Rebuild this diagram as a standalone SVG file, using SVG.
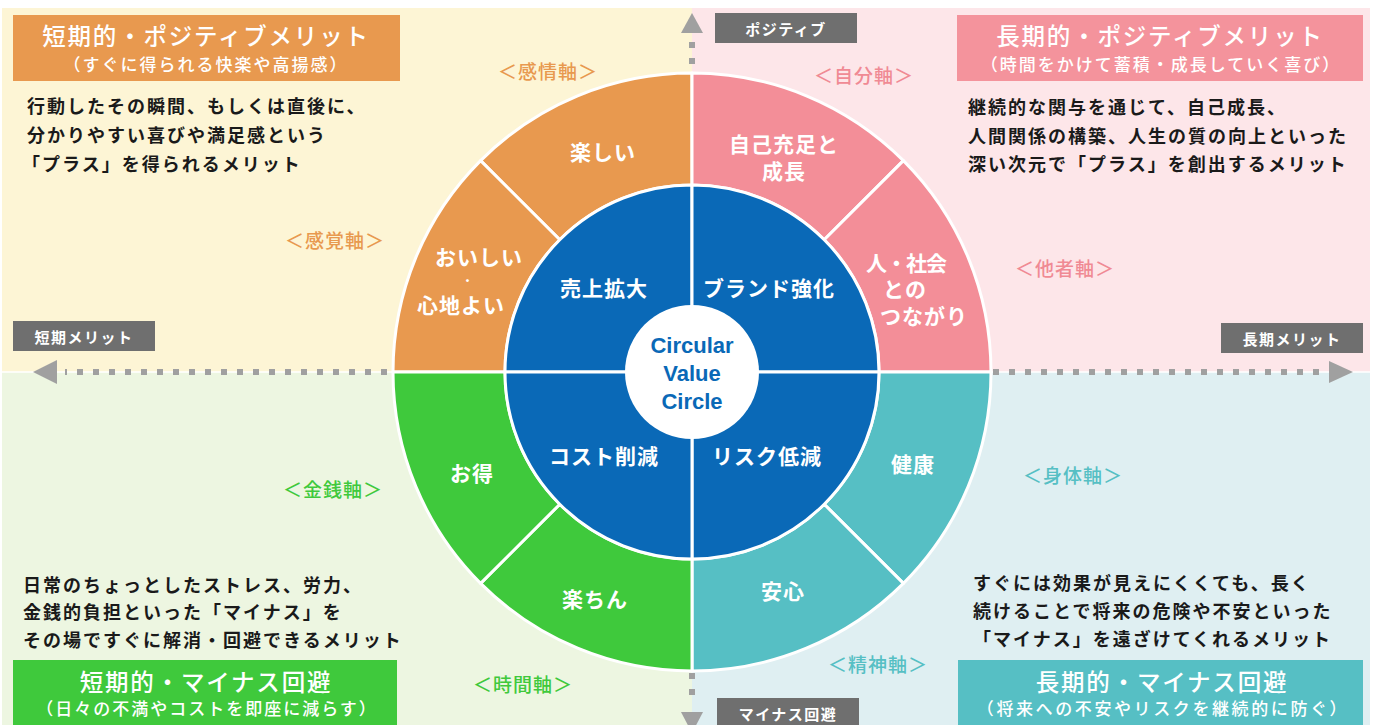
<svg xmlns="http://www.w3.org/2000/svg" width="1375" height="725" viewBox="0 0 1375 725">
<style>
text { font-family: "Noto Sans CJK JP", "Noto Sans", sans-serif; }
.seg { fill:#ffffff; font-size:21px; font-weight:700; letter-spacing:1px; text-anchor:middle; dominant-baseline:central; }
.axis { font-size:19px; font-weight:500; letter-spacing:1px; text-anchor:middle; dominant-baseline:central; }
.desc { font-size:18px; font-weight:700; fill:#1a1a1a; letter-spacing:2px; dominant-baseline:central; }
.htitle { font-size:23.5px; font-weight:500; fill:#ffffff; letter-spacing:1.8px; text-anchor:middle; dominant-baseline:central; }
.hsub { font-size:17px; font-weight:500; fill:#ffffff; letter-spacing:2px; text-anchor:middle; dominant-baseline:central; }
.glabel { font-size:15px; font-weight:700; fill:#ffffff; letter-spacing:1.5px; text-anchor:middle; dominant-baseline:central; }
.gbox { fill:#6f6f6f; }
.ring { stroke:#ffffff; stroke-width:3; stroke-linejoin:round; }
.dash { stroke:#a0a0a0; stroke-width:6; stroke-dasharray:6 10; fill:none; }
.head { fill:#a0a0a0; }
.ctr { font-family:"Liberation Sans", Arial, sans-serif; font-size:22px; font-weight:700; fill:#0a69b7; text-anchor:middle; dominant-baseline:central; }
</style>

<!-- quadrant backgrounds -->
<g id="background">
<rect x="0" y="0" width="1375" height="725" fill="#ffffff"/>
<rect x="2" y="8" width="690" height="364" fill="#fdf5d5"/>
<rect x="692" y="8" width="678" height="364" fill="#fde6e9"/>
<rect x="2" y="372" width="690" height="353" fill="#edf6e1"/>
<rect x="692" y="372" width="678" height="353" fill="#dfeff2"/>
<line x1="2" y1="372" x2="1370" y2="372" stroke="#ffffff" stroke-width="1.5"/>
</g>

<!-- connectors (axes arrows) -->
<g id="connectors">
<line class="dash" x1="387" y1="372" x2="65" y2="372"/>
<polygon class="head" points="33,372 57,360 57,384"/>
<line class="dash" x1="993" y1="372" x2="1327" y2="372"/>
<polygon class="head" points="1353,372 1329,361 1329,383"/>
<line class="dash" x1="692" y1="42" x2="692" y2="72"/>
<polygon class="head" points="692,13 681,33 703,33"/>
<line class="dash" x1="692" y1="673" x2="692" y2="705"/>
<polygon class="head" points="692,733 681,712 703,712"/>
</g>

<!-- axis direction labels -->
<g id="label-positive"><rect class="gbox" x="715" y="13" width="142" height="30"/><text class="glabel" x="786" y="28">ポジティブ</text></g>
<g id="label-short"><rect class="gbox" x="13" y="321" width="142" height="30"/><text class="glabel" x="84" y="336">短期メリット</text></g>
<g id="label-long"><rect class="gbox" x="1221" y="323" width="142" height="30"/><text class="glabel" x="1292" y="338">長期メリット</text></g>
<g id="label-minus"><rect class="gbox" x="717" y="698" width="142" height="30"/><text class="glabel" x="788" y="713">マイナス回避</text></g>

<!-- outer ring segments -->
<g id="seg-tanoshii">
<path class="ring" fill="#e8994f" d="M 480.6 160.6 A 299 299 0 0 1 692 73 L 692 185 A 187 187 0 0 0 559.8 239.8 Z"/>
<text class="seg" x="603" y="151">楽しい</text>
</g>
<g id="seg-oishii">
<path class="ring" fill="#e8994f" d="M 393 372 A 299 299 0 0 1 480.6 160.6 L 559.8 239.8 A 187 187 0 0 0 505 372 Z"/>
<text class="seg" x="479" y="256">おいしい</text>
<text class="seg" x="468" y="280" style="font-size:11px">・</text>
<text class="seg" x="461" y="304">心地よい</text>
</g>
<g id="seg-jiko">
<path class="ring" fill="#f38e98" d="M 692 73 A 299 299 0 0 1 903.4 160.6 L 824.2 239.8 A 187 187 0 0 0 692 185 Z"/>
<text class="seg" x="784" y="143">自己充足と</text>
<text class="seg" x="784" y="170">成長</text>
</g>
<g id="seg-hito">
<path class="ring" fill="#f38e98" d="M 903.4 160.6 A 299 299 0 0 1 991 372 L 879 372 A 187 187 0 0 0 824.2 239.8 Z"/>
<text class="seg" x="906" y="262" style="letter-spacing:-1px">人・社会</text>
<text class="seg" x="905" y="288">との</text>
<text class="seg" x="924" y="315">つながり</text>
</g>
<g id="seg-kenkou">
<path class="ring" fill="#56bfc4" d="M 991 372 A 299 299 0 0 1 903.4 583.4 L 824.2 504.2 A 187 187 0 0 0 879 372 Z"/>
<text class="seg" x="913" y="463">健康</text>
</g>
<g id="seg-anshin">
<path class="ring" fill="#56bfc4" d="M 903.4 583.4 A 299 299 0 0 1 692 671 L 692 559 A 187 187 0 0 0 824.2 504.2 Z"/>
<text class="seg" x="783" y="590">安心</text>
</g>
<g id="seg-rakuchin">
<path class="ring" fill="#3fc93c" d="M 692 671 A 299 299 0 0 1 480.6 583.4 L 559.8 504.2 A 187 187 0 0 0 692 559 Z"/>
<text class="seg" x="595" y="598">楽ちん</text>
</g>
<g id="seg-otoku">
<path class="ring" fill="#3fc93c" d="M 480.6 583.4 A 299 299 0 0 1 393 372 L 505 372 A 187 187 0 0 0 559.8 504.2 Z"/>
<text class="seg" x="472" y="472">お得</text>
</g>

<!-- inner blue segments -->
<g id="inner-uriage">
<path class="ring" fill="#0a69b7" d="M 505 372 A 187 187 0 0 1 692 185 L 692 372 Z"/>
<text class="seg" x="604" y="287">売上拡大</text>
</g>
<g id="inner-brand">
<path class="ring" fill="#0a69b7" d="M 692 185 A 187 187 0 0 1 879 372 L 692 372 Z"/>
<text class="seg" x="769" y="287">ブランド強化</text>
</g>
<g id="inner-risk">
<path class="ring" fill="#0a69b7" d="M 879 372 A 187 187 0 0 1 692 559 L 692 372 Z"/>
<text class="seg" x="767" y="455">リスク低減</text>
</g>
<g id="inner-cost">
<path class="ring" fill="#0a69b7" d="M 692 559 A 187 187 0 0 1 505 372 L 692 372 Z"/>
<text class="seg" x="604" y="455">コスト削減</text>
</g>

<!-- center -->
<g id="center">
<circle cx="692" cy="372" r="67" fill="#ffffff"/>
<text class="ctr" x="692" y="345">Circular</text>
<text class="ctr" x="692" y="373">Value</text>
<text class="ctr" x="692" y="401">Circle</text>
</g>

<!-- axis labels -->
<g id="axis-kanjou"><text class="axis" x="548" y="70" fill="#e8994f">＜感情軸＞</text></g>
<g id="axis-kankaku"><text class="axis" x="335" y="239" fill="#e8994f">＜感覚軸＞</text></g>
<g id="axis-jibun"><text class="axis" x="864" y="74" fill="#f08a94">＜自分軸＞</text></g>
<g id="axis-tasha"><text class="axis" x="1065" y="267" fill="#f08a94">＜他者軸＞</text></g>
<g id="axis-kinsen"><text class="axis" x="333" y="488" fill="#3fc93c">＜金銭軸＞</text></g>
<g id="axis-jikan"><text class="axis" x="523" y="683" fill="#3fc93c">＜時間軸＞</text></g>
<g id="axis-shintai"><text class="axis" x="1073" y="474" fill="#56bfc4">＜身体軸＞</text></g>
<g id="axis-seishin"><text class="axis" x="878" y="663" fill="#56bfc4">＜精神軸＞</text></g>

<!-- quadrant headers -->
<g id="head-tl">
<rect x="13" y="15" width="387" height="66" fill="#e8994f"/>
<text class="htitle" x="206" y="35">短期的・ポジティブメリット</text>
<text class="hsub" x="206" y="63">（すぐに得られる快楽や高揚感）</text>
</g>
<g id="head-tr">
<rect x="957" y="15" width="406" height="66" fill="#f4939c"/>
<text class="htitle" x="1160" y="35">長期的・ポジティブメリット</text>
<text class="hsub" x="1161" y="63">（時間をかけて蓄積・成長していく喜び）</text>
</g>
<g id="head-bl">
<rect x="13" y="660" width="384" height="70" fill="#3fc93c"/>
<text class="htitle" x="206" y="681">短期的・マイナス回避</text>
<text class="hsub" x="207" y="707">（日々の不満やコストを即座に減らす）</text>
</g>
<g id="head-br">
<rect x="958" y="660" width="405" height="70" fill="#56bfc4"/>
<text class="htitle" x="1162" y="681">長期的・マイナス回避</text>
<text class="hsub" x="1163" y="707" style="letter-spacing:2.6px">（将来への不安やリスクを継続的に防ぐ）</text>
</g>

<!-- descriptions -->
<g id="desc-tl">
<text class="desc" x="27" y="105">行動したその瞬間、もしくは直後に、</text>
<text class="desc" x="27" y="134">分かりやすい喜びや満足感という</text>
<text class="desc" x="22" y="163">「プラス」を得られるメリット</text>
</g>
<g id="desc-tr">
<text class="desc" x="968" y="106">継続的な関与を通じて、自己成長、</text>
<text class="desc" x="968" y="135">人間関係の構築、人生の質の向上といった</text>
<text class="desc" x="968" y="163">深い次元で「プラス」を創出するメリット</text>
</g>
<g id="desc-bl">
<text class="desc" x="23" y="584">日常のちょっとしたストレス、労力、</text>
<text class="desc" x="23" y="611">金銭的負担といった「マイナス」を</text>
<text class="desc" x="23" y="639">その場ですぐに解消・回避できるメリット</text>
</g>
<g id="desc-br">
<text class="desc" x="973" y="582">すぐには効果が見えにくくても、長く</text>
<text class="desc" x="973" y="610">続けることで将来の危険や不安といった</text>
<text class="desc" x="973" y="638">「マイナス」を遠ざけてくれるメリット</text>
</g>
</svg>
